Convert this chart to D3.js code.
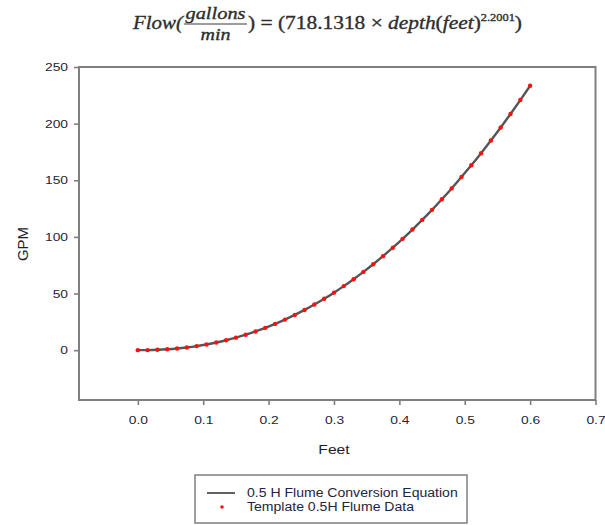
<!DOCTYPE html>
<html>
<head>
<meta charset="utf-8">
<script src="https://cdn.jsdelivr.net/npm/d3@7"></script>
<style>
  html, body { margin: 0; padding: 0; background: #fff; }
  svg { display: block; }
</style>
</head>
<body>
<svg id="chart" width="605" height="525"></svg>
<script>
// Flume depth (ft) and the template flow (GPM) recorded at each depth
const depthFt = [0, 0.015, 0.03, 0.045, 0.06, 0.075, 0.09, 0.105, 0.12, 0.135,
  0.15, 0.165, 0.18, 0.195, 0.21, 0.225, 0.24, 0.255, 0.27, 0.285,
  0.30, 0.315, 0.33, 0.345, 0.36, 0.375, 0.39, 0.405, 0.42, 0.435,
  0.45, 0.465, 0.48, 0.495, 0.51, 0.525, 0.54, 0.555, 0.57, 0.585, 0.60];
const flowGpm = [0, 0.07, 0.32, 0.78, 1.47, 2.41, 3.59, 5.04, 6.76, 8.77,
  11.05, 13.63, 16.51, 19.69, 23.18, 26.97, 31.09, 35.52, 40.29, 45.37,
  50.79, 56.54, 62.64, 69.08, 75.85, 82.99, 90.48, 98.29, 106.5, 115.0,
  123.9, 133.2, 142.8, 152.9, 163.2, 173.9, 185.1, 196.6, 208.5, 220.8, 233.4];

const xTicks = [0, 0.1, 0.2, 0.3, 0.4, 0.5, 0.6, 0.7];
const yTicks = [0, 50, 100, 150, 200, 250];
const legendLabels = ["0.5 H Flume Conversion Equation", "Template 0.5H Flume Data"];
const xTitle = "Feet";
const yTitle = "GPM";

const svg = d3.select("#chart");
const sans = "'Liberation Sans', Arial, sans-serif";
const serif = "'Liberation Serif', 'DejaVu Serif', serif";
const frameColor = "#7f7f7f";
const labelColor = "#24243e";

const plot = { left: 79, right: 595.5, top: 67, bottom: 400 };

const x = d3.scaleLinear().domain([-0.09, 0.7]).range([plot.left, plot.right]);
const y = d3.scaleLinear().domain([-44, 250]).range([plot.bottom, plot.top]);

// widen horizontal text a little (the chart's lettering is broad)
function widen(sel, k) {
  sel.each(function () {
    const w = this.getComputedTextLength();
    d3.select(this).attr("textLength", w * k).attr("lengthAdjust", "spacingAndGlyphs");
  });
}

// ---- equation title ----
const title = svg.append("g").style("font-family", serif)
  .attr("fill", "#2e2e2e").attr("stroke", "#2e2e2e").attr("stroke-width", 0.35);
title.append("text").attr("x", 133).attr("y", 29)
  .style("font-size", "19px").style("font-style", "italic")
  .attr("textLength", 50).attr("lengthAdjust", "spacingAndGlyphs")
  .text("Flow(");
title.append("text").attr("x", 215.5).attr("y", 19).attr("text-anchor", "middle")
  .style("font-size", "17px").style("font-style", "italic")
  .attr("textLength", 60).attr("lengthAdjust", "spacingAndGlyphs")
  .text("gallons");
title.append("line").attr("x1", 184).attr("x2", 247).attr("y1", 24).attr("y2", 24)
  .attr("stroke", "#3a3a3a").attr("stroke-width", 1);
title.append("text").attr("x", 215.5).attr("y", 40).attr("text-anchor", "middle")
  .style("font-size", "17px").style("font-style", "italic")
  .attr("textLength", 30).attr("lengthAdjust", "spacingAndGlyphs")
  .text("min");
const rest = title.append("text").attr("x", 248).attr("y", 29).style("font-size", "19px")
  .attr("textLength", 274).attr("lengthAdjust", "spacingAndGlyphs");
rest.append("tspan").text(") = (718.1318 × ");
rest.append("tspan").style("font-style", "italic").text("depth");
rest.append("tspan").text("(");
rest.append("tspan").style("font-style", "italic").text("feet");
rest.append("tspan").text(")");
rest.append("tspan").attr("dy", -8).style("font-size", "11px").text("2.2001");
rest.append("tspan").attr("dy", 8).text(")");

// ---- axes ----
const yAxis = svg.append("g")
  .attr("transform", `translate(${plot.left},0)`)
  .call(d3.axisLeft(y).tickValues(yTicks).tickSize(5).tickPadding(6).tickFormat(d3.format("d")));
const xAxis = svg.append("g")
  .attr("transform", `translate(0,${plot.bottom})`)
  .call(d3.axisBottom(x).tickValues(xTicks).tickSize(5).tickPadding(11).tickFormat(d3.format(".1f")));

[xAxis, yAxis].forEach(ax => {
  ax.select(".domain").remove();
  ax.selectAll(".tick line").attr("stroke", frameColor).attr("stroke-width", 1.6);
  ax.selectAll(".tick text").attr("fill", labelColor)
    .style("font-family", sans).style("font-size", "11.5px");
});
widen(xAxis.selectAll(".tick text"), 1.2);
widen(yAxis.selectAll(".tick text"), 1.2);

// plot frame
svg.append("rect")
  .attr("x", plot.left).attr("y", plot.top)
  .attr("width", plot.right - plot.left).attr("height", plot.bottom - plot.top)
  .attr("fill", "none").attr("stroke", frameColor).attr("stroke-width", 2);

// axis titles
const xt = svg.append("text")
  .attr("x", (x(0) + x(0.6)) / 2).attr("y", 454).attr("text-anchor", "middle")
  .style("font-family", sans).style("font-size", "13px").attr("fill", "#1e1e2e")
  .text(xTitle);
widen(xt, 1.2);
svg.append("text")
  .attr("transform", `translate(28,244) rotate(-90)`)
  .attr("text-anchor", "middle")
  .style("font-family", sans).style("font-size", "15px").attr("fill", "#1e1e2e")
  .text(yTitle);

// ---- conversion curve and template points ----
const pts = depthFt.map((d, i) => [d, flowGpm[i]]);
const line = d3.line().x(d => x(d[0])).y(d => y(d[1])).curve(d3.curveMonotoneX);
svg.append("path").datum(pts)
  .attr("d", line)
  .attr("fill", "none").attr("stroke", "#555").attr("stroke-width", 2.4);

svg.append("g").selectAll("circle").data(pts).join("circle")
  .attr("cx", d => x(d[0])).attr("cy", d => y(d[1]))
  .attr("r", 2.2).attr("fill", "#ff1010");

// ---- legend ----
const leg = svg.append("g");
leg.append("rect").attr("x", 195).attr("y", 475).attr("width", 272).attr("height", 48)
  .attr("fill", "#fff").attr("stroke", frameColor).attr("stroke-width", 1.5);
leg.append("line").attr("x1", 207).attr("x2", 235).attr("y1", 493).attr("y2", 493)
  .attr("stroke", "#505050").attr("stroke-width", 1.8);
leg.append("circle").attr("cx", 222).attr("cy", 507).attr("r", 1.8).attr("fill", "#ff1010");
const lt = leg.selectAll("text.lab").data(legendLabels).join("text")
  .attr("class", "lab")
  .attr("x", 247).attr("y", (d, i) => 497 + i * 14)
  .style("font-family", sans).style("font-size", "12px").attr("fill", labelColor)
  .text(d => d);
widen(lt, 1.17);
</script>
</body>
</html>
